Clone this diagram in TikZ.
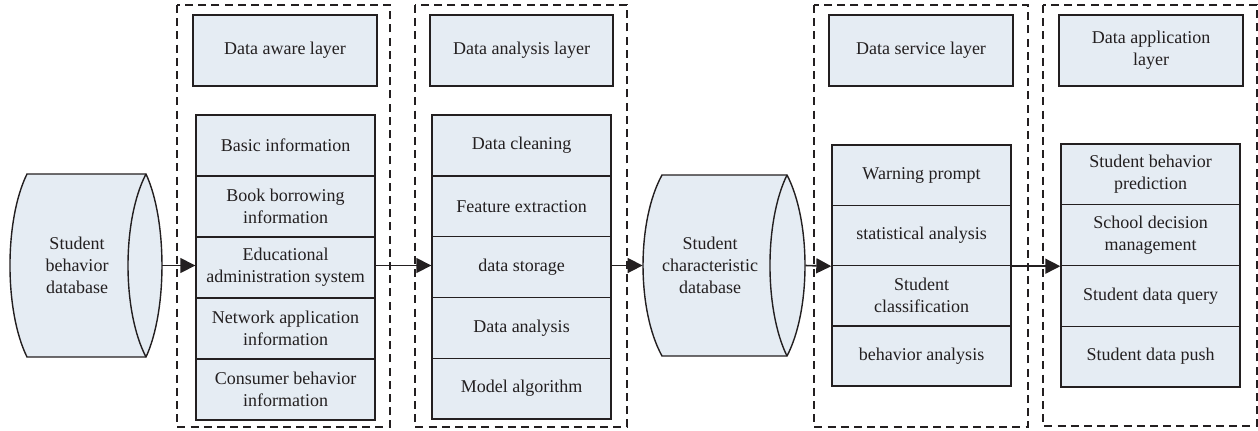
\documentclass[tikz,border=0pt]{standalone}
\usepackage{fontspec}
\setmainfont{Liberation Serif}
\usetikzlibrary{arrows.meta}
\definecolor{boxfill}{RGB}{229,236,243}
\definecolor{ink}{RGB}{35,31,32}
\begin{document}
\begin{tikzpicture}[x=0.5pt,y=-0.5pt,
  every node/.style={font=\fontsize{9}{11}\selectfont, text=ink, align=center, inner sep=0pt},
  cell/.style={draw=ink, fill=boxfill, line width=0.7pt, minimum width=89.5pt},
  headbox/.style={draw=ink, fill=boxfill, line width=0.7pt, minimum width=92pt, minimum height=35.5pt},
  layerframe/.style={draw=ink, line width=0.6pt, dash pattern=on 4pt off 2.6pt},
  dbshape/.style={draw=ink, fill=boxfill, line width=0.7pt},
  flow/.style={draw=ink, line width=0.8pt, -{Triangle[length=7.5pt,width=7.5pt]}},
  hole/.style={minimum width=#1, minimum height=91.5pt}
]
\useasboundingbox (0,0) rectangle (1258,430);

% layer frames
\draw[layerframe] (177,5) rectangle (390,427);
\draw[layerframe] (415,5) rectangle (627,427);
\draw[layerframe] (814,5) rectangle (1028,427);
\draw[layerframe] (1043,5) rectangle (1257,426);

% source database
\draw[dbshape] (27,174) -- (146,174) .. controls (167.3,220) and (167.3,311) .. (146,357)
  -- (27,357) .. controls (4.3,311) and (4.3,220) .. (27,174) -- cycle;
\draw[dbshape, fill=none] (146,174) .. controls (122,220) and (122,311) .. (146,357);
\node[hole=76pt] (db1) at (86,265.5) {};
\node (db1t) at (77,265.5) {Student\\behavior\\database};

% characteristic database
\draw[dbshape] (662,175) -- (787,175) .. controls (811,221) and (811,310) .. (787,356)
  -- (662,356) .. controls (636.7,310) and (636.7,221) .. (662,175) -- cycle;
\draw[dbshape, fill=none] (787,175) .. controls (764.3,221) and (764.3,310) .. (787,356);
\node[hole=81pt] (db2) at (724,265.5) {};
\node (db2t) at (710,265.5) {Student\\characteristic\\database};

% data aware layer
\node[headbox] (h1) at (285,50.5) {Data aware layer};
\node[cell, minimum height=30.5pt] (a1) at (285.5,145.5) {Basic information};
\node[cell, minimum height=30.5pt] (a2) at (285.5,206.5) {Book borrowing\\information};
\node[cell, minimum height=30.5pt] (a3) at (285.5,267.5) {Educational\\administration system};
\node[cell, minimum height=30.5pt] (a4) at (285.5,328.5) {Network application\\information};
\node[cell, minimum height=30.5pt] (a5) at (285.5,389.5) {Consumer behavior\\information};

% data analysis layer
\node[headbox, minimum width=91.5pt] (h2) at (521.5,50.5) {Data analysis layer};
\node[cell, minimum height=30.4pt] (b1) at (521.5,145.4) {Data cleaning};
\node[cell, minimum height=30.4pt] (b2) at (521.5,206.2) {Feature extraction};
\node[cell, minimum height=30.4pt] (b3) at (521.5,267) {data storage};
\node[cell, minimum height=30.4pt] (b4) at (521.5,327.8) {Data analysis};
\node[cell, minimum height=30.4pt] (b5) at (521.5,388.6) {Model algorithm};

% data service layer
\node[headbox] (h3) at (921,50.5) {Data service layer};
\node[cell, minimum height=30.1pt] (c1) at (921.5,175.1) {Warning prompt};
\node[cell, minimum height=30.1pt] (c2) at (921.5,235.4) {statistical analysis};
\node[cell, minimum height=30.1pt] (c3) at (921.5,295.6) {Student\\classification};
\node[cell, minimum height=30.1pt] (c4) at (921.5,355.9) {behavior analysis};

% data application layer
\node[headbox] (h4) at (1151,50.5) {Data application\\layer};
\node[cell, minimum height=30.4pt] (d1) at (1150.5,174.4) {Student behavior\\prediction};
\node[cell, minimum height=30.4pt] (d2) at (1150.5,235.1) {School decision\\management};
\node[cell, minimum height=30.4pt] (d3) at (1150.5,295.9) {Student data query};
\node[cell, minimum height=30.4pt] (d4) at (1150.5,356.6) {Student data push};

% data flow
\draw[flow] (db1.east) -- (db1.east -| a3.west);
\draw[flow] (db1.east -| a3.east) -- (db1.east -| b3.west);
\draw[flow] (db1.east -| b3.east) -- (db2.west);
\draw[flow] (db2.east) -- (c2.south west);
\draw[flow] (c2.south east) -- (d2.south west);
\end{tikzpicture}
\end{document}
